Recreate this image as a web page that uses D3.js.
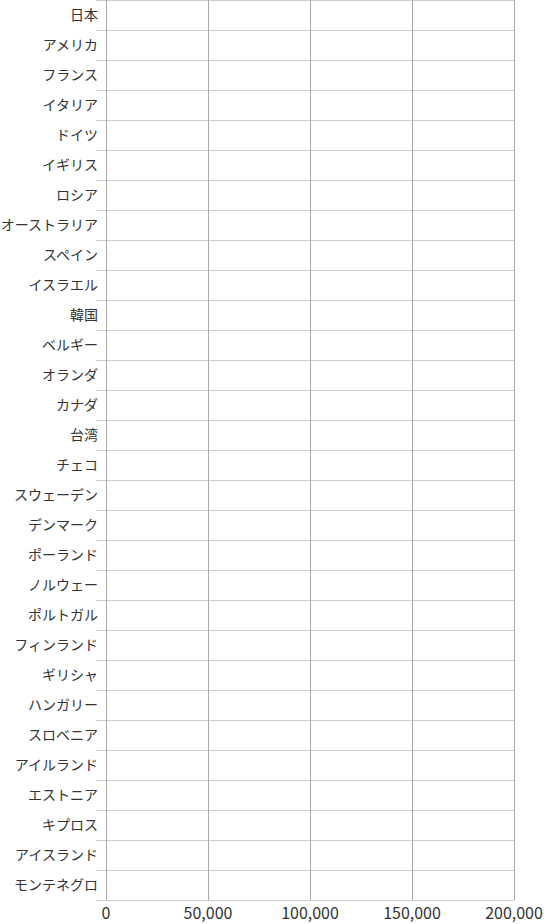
<!DOCTYPE html>
<html>
<head>
<meta charset="utf-8">
<script src="https://cdn.jsdelivr.net/npm/d3@7"></script>
<style>
  body { margin: 0; background: #fff; }
  text { font-family: "Noto Sans CJK JP", "Noto Sans", sans-serif; fill: #333; }
</style>
</head>
<body>
<div id="chart"></div>
<script>
// countries, top to bottom
const countries = ["日本", "アメリカ", "フランス", "イタリア", "ドイツ", "イギリス", "ロシア",
    "オーストラリア", "スペイン", "イスラエル", "韓国", "ベルギー", "オランダ", "カナダ", "台湾",
    "チェコ", "スウェーデン", "デンマーク", "ポーランド", "ノルウェー", "ポルトガル", "フィンランド",
    "ギリシャ", "ハンガリー", "スロベニア", "アイルランド", "エストニア", "キプロス", "アイスランド",
    "モンテネグロ"];
// no bars are visible in the picture
const values = [0, 0, 0, 0, 0, 0, 0, 0, 0, 0, 0, 0, 0, 0, 0,
    0, 0, 0, 0, 0, 0, 0, 0, 0, 0, 0, 0, 0, 0, 0];
const xTicks = [0, 50000, 100000, 150000, 200000];

const width = 547, height = 924;
const margin = {top: 0, right: 33, bottom: 24, left: 106};
const w = width - margin.left - margin.right;
const h = height - margin.top - margin.bottom;

let svg = d3.select("#chart")
    .append("svg")
    .attr("width", width)
    .attr("height", height)
    .append("g")
    .attr("transform", `translate(${margin.left}, ${margin.top})`);

let x = d3.scaleLinear().domain([0, 200000]).range([0, w]);
let y = d3.scaleBand().domain(countries).range([0, h]);

// horizontal row separators (extend left of the axis)
let rowEdges = countries.map(c => y(c)).concat([h]);
svg.append("g").selectAll("line").data(rowEdges).enter()
    .append("line")
    .attr("x1", -10).attr("x2", w)
    .attr("y1", d => Math.round(d) + 0.5).attr("y2", d => Math.round(d) + 0.5)
    .attr("stroke", "#ccc");

// vertical grid lines
svg.append("g").selectAll("line").data(xTicks).enter()
    .append("line")
    .attr("x1", d => Math.round(x(d)) + 0.5).attr("x2", d => Math.round(x(d)) + 0.5)
    .attr("y1", 0).attr("y2", h)
    .attr("stroke", "#aaa");

// bars
svg.append("g").selectAll("rect").data(countries).enter()
    .append("rect")
    .attr("x", 0)
    .attr("y", d => y(d) + 4)
    .attr("height", y.bandwidth() - 8)
    .attr("width", (d, i) => x(values[i]))
    .attr("fill", "#4e79a7");

// category labels
svg.append("g").selectAll("text").data(countries).enter()
    .append("text")
    .attr("x", -8)
    .attr("y", d => y(d) + y.bandwidth() / 2)
    .attr("dy", "0.35em")
    .style("text-anchor", "end")
    .style("font-size", "14px")
    .text(d => d);

// x tick labels
svg.append("g").selectAll("text").data(xTicks).enter()
    .append("text")
    .attr("x", d => x(d))
    .attr("y", h + 13)
    .attr("dy", "0.35em")
    .style("text-anchor", "middle")
    .style("font-size", "16px")
    .text(d => d3.format(",")(d));
</script>
</body>
</html>
